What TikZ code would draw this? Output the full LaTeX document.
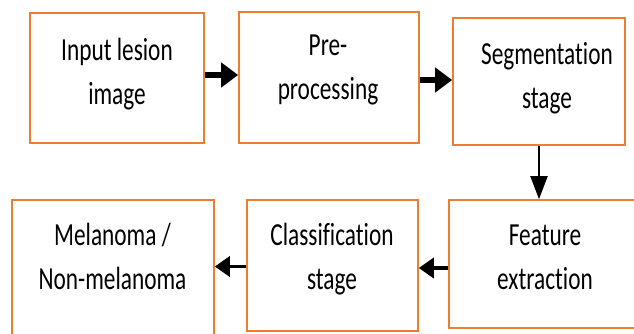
\documentclass[tikz,border=0pt]{standalone}
\usepackage{fontspec}
\setmainfont[Ligatures=NoCommon]{Carlito}
\usetikzlibrary{arrows.meta}
\definecolor{boxorange}{RGB}{237,125,49}
% two-line label, set in a tall narrow style
\newcommand\stagelabel[1]{\scalebox{1}[1.38]{\begin{tabular}{@{}c@{}}#1\end{tabular}}}
\tikzset{
  stagebox/.style={draw=boxorange, line width=1.6pt, rectangle, inner sep=0pt},
  lbl/.style={font=\fontsize{23.3}{32}\selectfont, inner sep=0pt, text=black},
  bigarrow/.style={line width=6pt, -{Triangle[length=17pt,width=24pt]}},
  downarrow/.style={line width=2pt, -{Triangle[length=23pt,width=17pt]}},
  backarrow/.style={line width=3.5pt, -{Triangle[length=15pt,width=20pt]}}
}
\begin{document}
\begin{tikzpicture}[x=1pt, y=-1pt]
  \clip (0,0) rectangle (634,333);
  \fill[white] (0,0) rectangle (634,333);

  % stage boxes
  \node[stagebox, minimum width=174pt, minimum height=130pt] (b1) at (117,78) {};
  \node[stagebox, minimum width=180pt, minimum height=131pt] (b2) at (329,77.5) {};
  \node[stagebox, minimum width=172pt, minimum height=127pt] (b3) at (539,81.5) {};
  \node[stagebox, minimum width=211pt, minimum height=128pt] (b4) at (554.5,264) {};
  \node[stagebox, minimum width=171pt, minimum height=131pt] (b5) at (332.5,265.5) {};
  \node[stagebox, minimum width=202pt, minimum height=140pt] (b6) at (113,270) {};

  % labels
  \node[lbl] (t1) at (117,73.3) {\stagelabel{Input lesion\\image}};
  \node[lbl] (t2) at (328,68.8) {\stagelabel{Pre-\\processing}};
  \node[lbl] (t3) at (547,77.3) {\stagelabel{Segmentation\\stage}};
  \node[lbl] (t4) at (545,258.3) {\stagelabel{Feature\\extraction}};
  \node[lbl] (t5) at (332,258.3) {\stagelabel{Classification\\stage}};
  \node[lbl] (t6) at (112.5,258.3) {\stagelabel{Melanoma /\\Non-melanoma}};

  % flow arrows
  \draw[bigarrow] ([yshift=3pt]b1.east) -- ([yshift=3pt]b1.east -| b2.west);
  \draw[bigarrow] ([yshift=-2.5pt]b2.east) -- ([yshift=-2.5pt]b2.east -| b3.west);
  \draw[downarrow] (b3.south) -- (b3.south |- b4.north);
  \draw[backarrow] ([yshift=-4pt]b4.west) -- ([yshift=-4pt]b4.west -| b5.east);
  \draw[backarrow] ([yshift=-1pt]b5.west) -- ([yshift=-1pt]b5.west -| b6.east);
\end{tikzpicture}
\end{document}
